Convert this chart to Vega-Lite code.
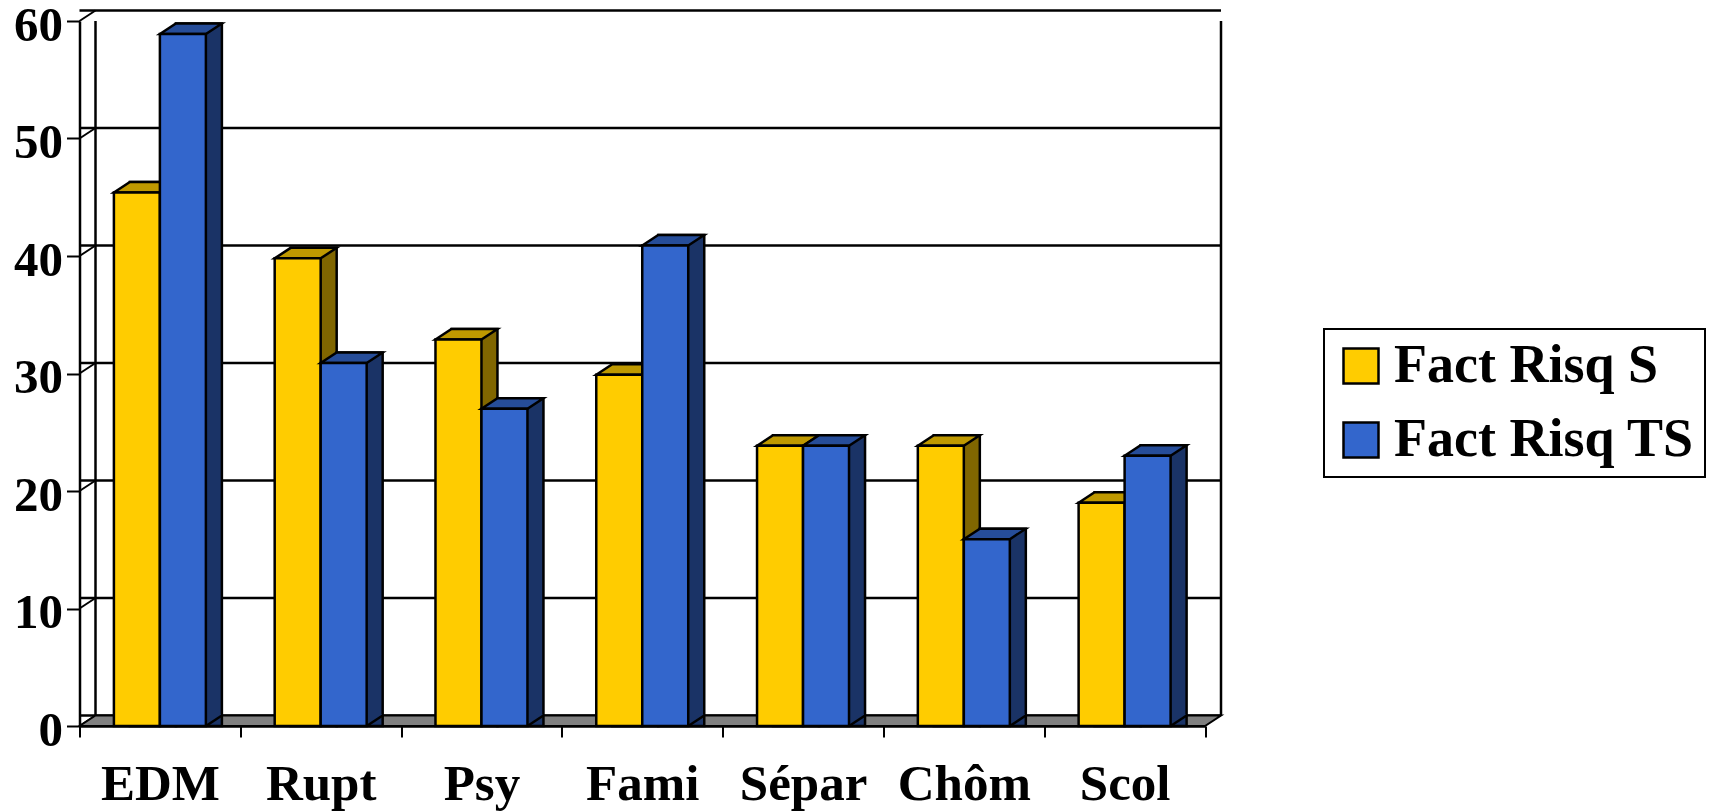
{
"$schema":"https://vega.github.io/schema/vega-lite/v6.json",
"width":1125.5,"height":705,"autosize":"none",
"padding":{"left":79.5,"top":21,"right":508,"bottom":85},
"background":"white",
"config":{"view":{"stroke":null},"font":"Liberation Serif","legend":{"strokeWidth":2}},
"datasets":{
"bars":[
{"cat":"EDM","series":"Fact Risq S","value":45.4},{"cat":"EDM","series":"Fact Risq TS","value":58.9},
{"cat":"Rupt","series":"Fact Risq S","value":39.8},{"cat":"Rupt","series":"Fact Risq TS","value":30.9},
{"cat":"Psy","series":"Fact Risq S","value":32.9},{"cat":"Psy","series":"Fact Risq TS","value":27},
{"cat":"Fami","series":"Fact Risq S","value":29.9},{"cat":"Fami","series":"Fact Risq TS","value":40.9},
{"cat":"Sépar","series":"Fact Risq S","value":23.85},{"cat":"Sépar","series":"Fact Risq TS","value":23.85},
{"cat":"Chôm","series":"Fact Risq S","value":23.85},{"cat":"Chôm","series":"Fact Risq TS","value":15.9},
{"cat":"Scol","series":"Fact Risq S","value":19},{"cat":"Scol","series":"Fact Risq TS","value":23}
],
"ticks":[{"tick":0},{"tick":10},{"tick":20},{"tick":30},{"tick":40},{"tick":50},{"tick":60}]
},
"layer":[
{"data":{"name":"bars"},"mark":{"type":"bar","opacity":0},
 "encoding":{
 "x":{"field":"cat","type":"nominal","sort":null,"title":null,
 "scale":{"type":"band","domain":["EDM","Rupt","Psy","Fami","Sépar","Chôm","Scol"],"paddingInner":0,"paddingOuter":0},
 "axis":{"labelAngle":0,"labelFont":"Liberation Serif","labelFontWeight":"bold","labelFontSize":51,"labelColor":"black","labelPadding":22,"tickBand":"extent","bandPosition":0.5,"tickSize":11,"tickWidth":2,"tickColor":"black","domainWidth":2.5,"domainColor":"black","grid":false,"zindex":0}},
 "y":{"field":"value","type":"quantitative","stack":null,"title":null,"scale":{"domain":[0,60],"nice":false},
 "axis":{"values":[0,10,20,30,40,50,60],"labelFont":"Liberation Serif","labelFontWeight":"bold","labelFontSize":49,"labelColor":"black","labelPadding":4,"labelOffset":4,"tickSize":13,"tickWidth":2,"tickColor":"black","domainWidth":2.5,"domainColor":"black","grid":false,"zindex":0}}}},
{"data":{"name":"ticks"},"mark":{"type":"rule","xOffset":16,"yOffset":-10.5,"stroke":"black","strokeWidth":2.5},
 "encoding":{"y":{"field":"tick","type":"quantitative","title":null}}},
{"data":{"name":"ticks"},"transform":[{"filter":"datum.tick == 0"}],
 "encoding":{"x":{"datum":"EDM","type":"nominal","bandPosition":0,"title":null},
 "y":{"datum":0,"type":"quantitative","title":null},"y2":{"datum":60}},
 "mark":{"type":"rule","xOffset":16,"yOffset":-10.5,"stroke":"black","strokeWidth":2.5}},
{"data":{"name":"ticks"},"transform":[{"filter":"datum.tick == 0"}],
 "encoding":{"x":{"datum":"Scol","type":"nominal","bandPosition":1,"title":null},
 "y":{"datum":0,"type":"quantitative","title":null},"y2":{"datum":60}},
 "mark":{"type":"rule","xOffset":16,"yOffset":-10.5,"stroke":"black","strokeWidth":2.5}},
{"data":{"name":"ticks"},"mark":{"type":"point","shape":"M0,0L16,-10.5","size":4,"filled":false,"stroke":"black","strokeWidth":2,"opacity":1},
 "encoding":{"x":{"datum":"EDM","type":"nominal","bandPosition":0,"title":null},"y":{"field":"tick","type":"quantitative","title":null}}},
{"data":{"name":"ticks"},"transform":[{"filter":"datum.tick == 0"}],"mark":{"type":"point","shape":"M0,0L16,-10.5L1141.5,-10.5L1125.5,0Z","size":4,"filled":true,"fill":"#808080","stroke":"black","strokeWidth":2,"opacity":1},
 "encoding":{"x":{"datum":"EDM","type":"nominal","bandPosition":0,"title":null},"y":{"field":"tick","type":"quantitative","title":null}}},
{"data":{"name":"bars"},
"encoding":{
"x":{"field":"cat","type":"nominal","sort":null,"title":null},
"y":{"field":"value","type":"quantitative","stack":null,"title":null}
},
"layer":[
{"transform":[{"filter":"datum.series == 'Fact Risq S'"}],"mark":{"type":"bar","width":46,"xOffset":-7,"yOffset":-10.5,"fill":"#806600","stroke":"black","strokeWidth":2.5}},
{"transform":[{"filter":"datum.series == 'Fact Risq S'"}],"mark":{"type":"point","shape":"M0,0L15,-9.8L15,-12L0,-12Z","size":4,"filled":true,"fill":"#806600","strokeWidth":0,"opacity":1},"encoding":{"y":{"datum":0}}},
{"transform":[{"filter":"datum.series == 'Fact Risq S'"}],"mark":{"type":"point","shape":"M0,0L16,-10.5","size":4,"filled":false,"stroke":"black","strokeWidth":2.5,"opacity":1},"encoding":{"y":{"datum":0}}},
{"transform":[{"filter":"datum.series == 'Fact Risq S'"}],"mark":{"type":"point","shape":"M-46,0L-30,-10.5L16,-10.5L0,0Z","size":4,"filled":true,"fill":"#BF9900","stroke":"black","strokeWidth":2.5,"opacity":1}},
{"transform":[{"filter":"datum.series == 'Fact Risq TS'"}],"mark":{"type":"bar","width":46,"xOffset":39,"yOffset":-10.5,"fill":"#1A3366","stroke":"black","strokeWidth":2.5}},
{"transform":[{"filter":"datum.series == 'Fact Risq S'"}],"mark":{"type":"bar","stroke":"black","strokeWidth":2.5},
 "encoding":{
 "xOffset":{"field":"series","type":"nominal","scale":{"domain":["Fact Risq S","Fact Risq TS"],"paddingInner":0,"paddingOuter":0.748}},
 "color":{"field":"series","type":"nominal","scale":{"domain":["Fact Risq S","Fact Risq TS"],"range":["#FFCC00","#3366CC"]},
 "legend":{"title":null,"orient":"none","legendX":1244.5,"legendY":308,"symbolType":"square","symbolSize":1225,"symbolStrokeColor":"black","symbolStrokeWidth":2.5,"labelFont":"Liberation Serif","labelFontWeight":"bold","labelFontSize":54,"labelColor":"black","labelLimit":500,"labelOffset":6,"rowPadding":20,"padding":10,"strokeColor":"black","fillColor":"white"}}}},
{"transform":[{"filter":"datum.series == 'Fact Risq TS'"}],"mark":{"type":"point","shape":"M23,0L38,-9.8L38,-12L23,-12Z","size":4,"filled":true,"fill":"#1A3366","strokeWidth":0,"opacity":1,"xOffset":23},"encoding":{"y":{"datum":0}}},
{"transform":[{"filter":"datum.series == 'Fact Risq TS'"}],"mark":{"type":"point","shape":"M23,0L39,-10.5","size":4,"filled":false,"stroke":"black","strokeWidth":2.5,"opacity":1,"xOffset":23},"encoding":{"y":{"datum":0}}},
{"transform":[{"filter":"datum.series == 'Fact Risq TS'"}],"mark":{"type":"point","shape":"M-23,0L-7,-10.5L39,-10.5L23,0Z","size":4,"filled":true,"fill":"#264D99","stroke":"black","strokeWidth":2.5,"opacity":1,"xOffset":23}},
{"transform":[{"filter":"datum.series == 'Fact Risq TS'"}],"mark":{"type":"bar","stroke":"black","strokeWidth":2.5},
 "encoding":{
 "xOffset":{"field":"series","type":"nominal","scale":{"domain":["Fact Risq S","Fact Risq TS"],"paddingInner":0,"paddingOuter":0.748}},
 "color":{"field":"series","type":"nominal","scale":{"domain":["Fact Risq S","Fact Risq TS"],"range":["#FFCC00","#3366CC"]}}}}
]}
]
}
